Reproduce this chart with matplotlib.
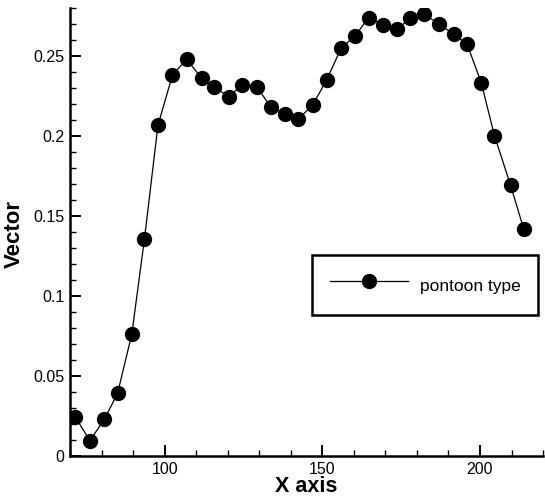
import numpy as np
import matplotlib
matplotlib.use("Agg")
import matplotlib.pyplot as plt
from matplotlib.ticker import MultipleLocator, FuncFormatter

plt.rcParams['font.family'] = ['Liberation Sans', 'DejaVu Sans']

# data
x_vals = [71.6, 76.3, 80.9, 85.1, 89.6, 93.6, 97.9, 102.5, 107.0, 111.8,
          115.8, 120.3, 124.7, 129.3, 133.6, 138.2, 142.3, 146.9, 151.4, 156.0,
          160.4, 164.7, 169.1, 173.7, 177.9, 182.4, 186.9, 191.7, 195.9, 200.4,
          204.6, 209.7, 213.9]
y_vals = [0.0246, 0.0096, 0.0229, 0.0392, 0.0761, 0.1354, 0.2067, 0.2381, 0.2479, 0.2360,
          0.2305, 0.2246, 0.2320, 0.2306, 0.2183, 0.2139, 0.2104, 0.2192, 0.2350, 0.2550,
          0.2625, 0.2740, 0.2694, 0.2667, 0.2736, 0.2760, 0.2700, 0.2636, 0.2575, 0.2333,
          0.2002, 0.1692, 0.1417]
series_label = "pontoon type"

fig = plt.figure(figsize=(5.45, 4.97), dpi=100)
ax = fig.add_axes([0.1284, 0.0825, 0.868, 0.9015])

ax.plot(x_vals, y_vals, color='black', lw=0.9, marker='o', markersize=10,
        markerfacecolor='black', markeredgecolor='black', label=series_label)

ax.set_xlim(70, 220)
ax.set_ylim(0, 0.28)

ax.xaxis.set_major_locator(MultipleLocator(50))
ax.xaxis.set_minor_locator(MultipleLocator(10))
ax.yaxis.set_major_locator(MultipleLocator(0.05))
ax.yaxis.set_minor_locator(MultipleLocator(0.01))
ax.yaxis.set_major_formatter(FuncFormatter(lambda v, p: "0" if abs(v) < 1e-9 else ("%.2f" % v).rstrip('0')))

for s in ['top', 'right']:
    ax.spines[s].set_visible(False)
for s in ['left', 'bottom']:
    ax.spines[s].set_linewidth(1.8)

ax.tick_params(which='major', direction='in', length=8, width=1.4, labelsize=11.5, pad=4)
ax.tick_params(which='minor', direction='in', length=4.3, width=1.0)

ax.set_xlabel("X axis", fontsize=15.5, fontweight='bold')
ax.set_ylabel("Vector", fontsize=16, fontweight='bold')
ax.xaxis.set_label_coords(0.5, -0.044)
ax.yaxis.set_label_coords(-0.095, 0.495)

leg = ax.legend(loc='upper left', bbox_to_anchor=(0.512, 0.449), borderaxespad=0,
                numpoints=1, handlelength=4.5, handleheight=1.9, handletextpad=0.7,
                borderpad=1.0, fancybox=False, framealpha=1, prop={'size': 12.5})
leg.get_frame().set_edgecolor('black')
leg.get_frame().set_linewidth(1.8)

fig.savefig("out.png", dpi=100)
